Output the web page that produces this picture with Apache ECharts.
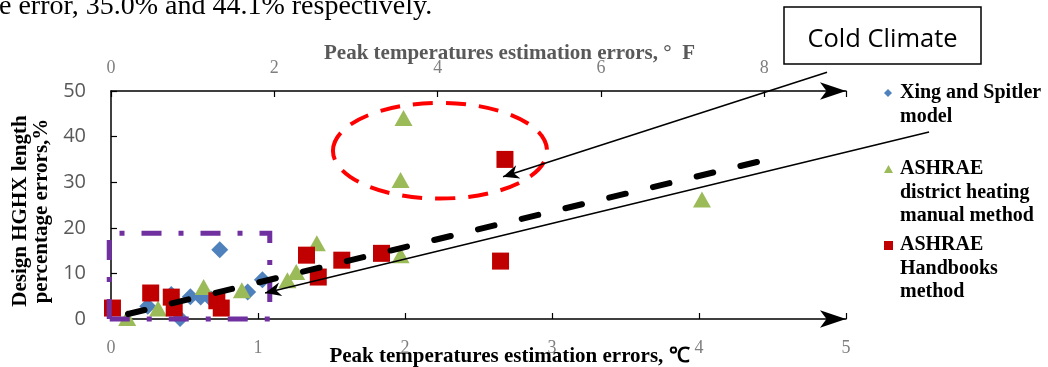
<!DOCTYPE html>
<html><head><meta charset="utf-8">
<script src="https://cdn.jsdelivr.net/npm/echarts@6/dist/echarts.min.js"></script>
<style>html,body{margin:0;padding:0;background:#fff}#c{width:1048px;height:367px}</style>
</head><body><div id="c"></div>
<script>
// ---- data ----
const seriesNames = ['Xing and Spitler model', 'ASHRAE district heating manual method', 'ASHRAE Handbooks method'];
const legendLines = [['Xing and Spitler', 'model'], ['ASHRAE', 'district heating', 'manual method'], ['ASHRAE', 'Handbooks', 'method']];
const xingX = [0.25, 0.41, 0.47, 0.54, 0.61, 0.68, 0.74, 0.93, 1.03];
const xingY = [2.8, 5.4, 0.1, 4.9, 4.8, 4.4, 15.2, 5.9, 8.6];
const dhX = [0.11, 0.32, 0.63, 0.89, 1.20, 1.26, 1.40, 1.97, 1.97, 1.99, 4.02];
const dhY = [0.2, 2.3, 7.0, 6.3, 8.5, 10.3, 16.6, 14.0, 30.5, 44.1, 26.2];
const hbX = [0.01, 0.27, 0.41, 0.43, 0.72, 0.75, 1.33, 1.41, 1.57, 1.84, 2.65, 2.68];
const hbY = [2.4, 5.7, 4.8, 2.4, 4.0, 2.4, 14.0, 9.2, 12.9, 14.4, 12.7, 35.0];
const xTicksC = [0, 1, 2, 3, 4, 5];
const xTicksF = [0, 2, 4, 6, 8];
const yTicks = [0, 10, 20, 30, 40, 50];

const colors = ['#4F81BD', '#9BBB59', '#C00000'];
const serif = '"Liberation Serif", "Times New Roman", serif';
const sans = '"Open Sans", "Liberation Sans", sans-serif';

const chart = echarts.init(document.getElementById('c'));
const pairs = (xs, ys) => xs.map((x, i) => [x, ys[i]]);

const axisCommon = {
  type: 'value',
  nameMoveOverlap: false,
  axisLine: { show: true, lineStyle: { color: '#000', width: 1.5 }, symbol: ['none', 'arrow'], symbolSize: [13, 26], symbolOffset: [0, 0] },
  axisTick: { show: true, inside: true, length: 6, lineStyle: { color: '#000', width: 1.2 } },
  splitLine: { show: false },
  axisLabel: { color: '#7f7f7f', fontFamily: serif, fontSize: 18 }
};

chart.setOption({
  animation: false,
  backgroundColor: '#fff',
  grid: { left: 111, right: 202, top: 91, bottom: 48, containLabel: false, outerBoundsMode: 'none' },
  xAxis: [
    Object.assign({}, axisCommon, {
      position: 'bottom', min: 0, max: 5, interval: 1,
      name: 'Peak temperatures estimation errors, ℃', nameLocation: 'middle', nameGap: 27,
      nameTextStyle: { color: '#000', fontFamily: serif, fontWeight: 'bold', fontSize: 21, padding: [0, 0, 0, 62] },
      axisLabel: Object.assign({}, axisCommon.axisLabel, { margin: 20, formatter: v => xTicksC.includes(v) ? String(v) : '' })
    }),
    Object.assign({}, axisCommon, {
      position: 'top', min: 0, max: 9, interval: 2,
      name: 'Peak temperatures estimation errors, °  F', nameLocation: 'middle', nameGap: 27,
      nameTextStyle: { color: '#595959', fontFamily: serif, fontWeight: 'bold', fontSize: 21, padding: [0, 0, 0, 62] },
      axisLabel: Object.assign({}, axisCommon.axisLabel, { margin: 14, formatter: v => xTicksF.includes(v) ? String(v) : '' })
    })
  ],
  yAxis: {
    type: 'value', min: 0, max: 50, interval: 10,
    axisLine: { show: true, lineStyle: { color: '#000', width: 1.5 } },
    axisTick: { show: true, inside: true, length: 6, lineStyle: { color: '#000', width: 1.2 } },
    splitLine: { show: false },
    axisLabel: { color: '#595959', fontFamily: sans, fontSize: 20, margin: 25, formatter: v => yTicks.includes(v) ? String(v) : '' },
    name: 'Design HGHX length\npercentage errors,%', nameLocation: 'middle', nameGap: 57, nameRotate: 90,
    nameTextStyle: { color: '#000', fontFamily: serif, fontWeight: 'bold', fontSize: 21, lineHeight: 21, padding: [0, 12, 0, 0] }
  },
  legend: { show: false },
  series: [
    { name: seriesNames[0], type: 'scatter', symbol: 'diamond', symbolSize: 17, data: pairs(xingX, xingY), itemStyle: { color: colors[0], opacity: 1 }, z: 2, clip: false },
    { name: seriesNames[1], type: 'scatter', symbol: 'triangle', symbolSize: [18, 16], data: pairs(dhX, dhY), itemStyle: { color: colors[1], opacity: 1 }, z: 3, clip: false },
    { name: seriesNames[2], type: 'scatter', symbol: 'rect', symbolSize: 17, data: pairs(hbX, hbY), itemStyle: { color: colors[2], opacity: 1 }, z: 4, clip: false }
  ]
});

// ---- annotations (in data coordinates) ----
const px = p => chart.convertToPixel({ seriesIndex: 0 }, p);
function arrowHead(tip, from, len, halfW) {
  const dx = tip[0] - from[0], dy = tip[1] - from[1];
  const d = Math.hypot(dx, dy), ux = dx / d, uy = dy / d, nx = -uy, ny = ux;
  const bx = tip[0] - ux * len, by = tip[1] - uy * len;
  const mx = tip[0] - ux * len * 0.7, my = tip[1] - uy * len * 0.7;
  return [tip, [bx + nx * halfW, by + ny * halfW], [mx, my], [bx - nx * halfW, by - ny * halfW]];
}
const trendFrom = [0.116, 1.1], trendTo = [4.415, 34.6];
const lineA = [[5.565, 41.0], [1.048, 5.7]];
const lineB = [[4.871, 54.1], [2.667, 31.2]];
const ellipseC = [2.238, 36.9], ellipseR = [0.728, 10.5];
const boxPurple = [[-0.012, 0], [-0.012, 18.8], [1.08, 18.8], [1.08, 0]];

const g = [];
// purple dash-dot box
const pb = boxPurple.map(px);
g.push({ type: 'polygon', shape: { points: pb }, style: { fill: 'none', stroke: '#7030A0', lineWidth: 5, lineDash: [20, 17, 5, 17] }, z: 10 });
// red dashed ellipse
const ec = px(ellipseC), er = px([ellipseC[0] + ellipseR[0], ellipseC[1] + ellipseR[1]]);
g.push({ type: 'ellipse', shape: { cx: ec[0], cy: ec[1], rx: er[0] - ec[0], ry: ec[1] - er[1] }, style: { fill: 'none', stroke: '#FF0000', lineWidth: 4, lineDash: [20, 13] }, z: 10 });
// thick dashed trend
g.push({ type: 'polyline', shape: { points: [px(trendFrom), px(trendTo)] }, style: { stroke: '#000', lineWidth: 6, lineDash: [17, 28], lineCap: 'round' }, z: 11 });
// solid arrows
[lineA, lineB].forEach(l => {
  const a = px(l[0]), b = px(l[1]);
  g.push({ type: 'line', shape: { x1: a[0], y1: a[1], x2: b[0], y2: b[1] }, style: { stroke: '#000', lineWidth: 1.6 }, z: 12 });
  g.push({ type: 'polygon', shape: { points: arrowHead(b, a, 16, 7) }, style: { fill: '#000' }, z: 12 });
});
// Cold Climate box
g.push({ type: 'rect', shape: { x: 784, y: 7, width: 197, height: 57 }, style: { fill: '#fff', stroke: '#000', lineWidth: 1.5 }, z: 13 });
g.push({ type: 'text', x: 882.5, y: 40, style: { text: 'Cold Climate', fill: '#000', font: '25.5px ' + sans, align: 'center', verticalAlign: 'middle' }, z: 14 });
// top cropped paragraph text
g.push({ type: 'text', x: -1, y: 7, style: { text: 'e error, 35.0% and 44.1% respectively.', fill: '#000', font: '28px ' + serif, align: 'left', verticalAlign: 'middle' }, z: 14 });
// legend
const legendTop = [93, 169, 245];
const syms = [
  { type: 'polygon', shape: { points: [[888, 89], [892, 93], [888, 97], [884, 93]] } },
  { type: 'polygon', shape: { points: [[888.5, 165], [893, 173], [884, 173]] } },
  { type: 'rect', shape: { x: 884, y: 241, width: 9, height: 9 } }
];
legendLines.forEach((lines, i) => {
  g.push(Object.assign({}, syms[i], { style: { fill: colors[i] }, z: 14 }));
  lines.forEach((t, j) => {
    g.push({ type: 'text', x: 900, y: legendTop[i] + j * 23.5, style: { text: t, fill: '#000', font: 'bold 20px ' + serif, align: 'left', verticalAlign: 'middle' }, z: 14 });
  });
});
chart.setOption({ graphic: g });
</script>
</body></html>
